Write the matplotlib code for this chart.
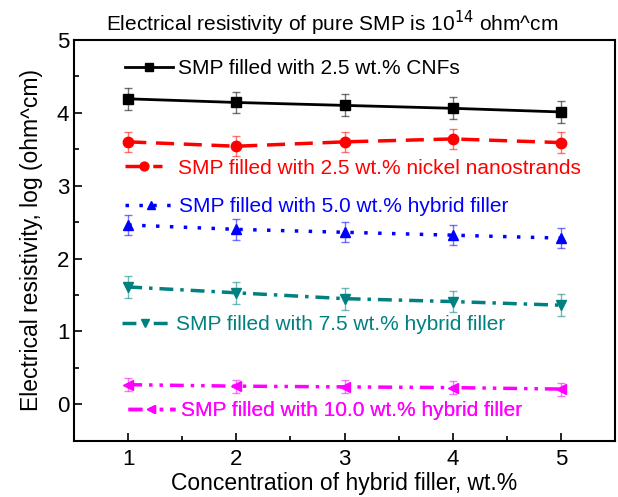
import matplotlib
matplotlib.use("Agg")
import matplotlib.pyplot as plt
from matplotlib.ticker import MultipleLocator

plt.rcParams["font.family"] = ["Liberation Sans", "DejaVu Sans"]

# concentration of hybrid filler, wt.%
conc = [1, 2, 3, 4, 5]

cnf = [4.19, 4.14, 4.10, 4.06, 4.01]
cnf_err = [0.15, 0.15, 0.15, 0.15, 0.15]
nickel = [3.60, 3.54, 3.60, 3.64, 3.59]
nickel_err = [0.14, 0.14, 0.14, 0.14, 0.14]
hyb5 = [2.46, 2.40, 2.36, 2.32, 2.28]
hyb5_err = [0.14, 0.14, 0.14, 0.14, 0.14]
hyb75 = [1.61, 1.53, 1.45, 1.41, 1.36]
hyb75_err = [0.15, 0.15, 0.15, 0.15, 0.15]
hyb10 = [0.27, 0.25, 0.24, 0.23, 0.21]
hyb10_err = [0.09, 0.09, 0.09, 0.09, 0.09]

labels = [
    "SMP filled with 2.5 wt.% CNFs",
    "SMP filled with 2.5 wt.% nickel nanostrands",
    "SMP filled with 5.0 wt.% hybrid filler",
    "SMP filled with 7.5 wt.% hybrid filler",
    "SMP filled with 10.0 wt.% hybrid filler",
]

series = [
    (cnf, cnf_err, "#000000", "-", "s", 7),
    (nickel, nickel_err, "#ff0000", (0, (5.2, 2.8)), "o", 7.5),
    (hyb5, hyb5_err, "#0000ff", (0, (1, 3)), "^", 7.5),
    (hyb75, hyb75_err, "#008080", (0, (4, 2, 1, 2)), "v", 7.5),
    (hyb10, hyb10_err, "#ff00ff", (0, (4, 2, 1, 2, 1, 2)), "<", 7.5),
]

# legend anchor (axes coords), handle length and pad for each label, as in the Origin original
leg_pos = [(0.094, 0.928), (0.094, 0.680), (0.094, 0.584), (0.088, 0.289), (0.099, 0.075)]
leg_handle = [2.3, 1.8, 2.5, 2.26, 2.26]
leg_pad = [0.25, 0.75, 0.1, 0.33, 0.29]

fig = plt.figure(figsize=(6.18, 4.97), dpi=100)
ax = fig.add_axes([0.120, 0.113, 0.875, 0.807])

for i, (y, err, color, ls, mk, ms) in enumerate(series):
    lw = 2.0 if ls == "-" else 2.5
    ax.errorbar(conc, y, yerr=err, fmt="none", ecolor=color, alpha=0.55,
                elinewidth=1.0, capsize=3, capthick=1.0, zorder=2)
    (ln,) = ax.plot(conc, y, color=color, linestyle=ls, linewidth=lw,
                    marker=mk, markersize=ms, zorder=3)
    leg = ax.legend([ln], [labels[i]], loc="center left",
                    bbox_to_anchor=leg_pos[i], frameon=False,
                    handlelength=leg_handle[i], handletextpad=leg_pad[i],
                    borderaxespad=0, borderpad=0, numpoints=1,
                    markerscale=0.85, fontsize=15, labelcolor=color)
    ax.add_artist(leg)

ax.set_xlim(0.5, 5.5)
ax.set_ylim(-0.5, 5)
ax.set_xticks(conc)
ax.xaxis.set_minor_locator(MultipleLocator(0.5))
ax.yaxis.set_major_locator(MultipleLocator(1))
ax.yaxis.set_minor_locator(MultipleLocator(0.5))
ax.tick_params(which="both", direction="in", width=1.2, labelsize=16)
ax.tick_params(which="major", length=6)
ax.tick_params(which="minor", length=3.5)
ax.tick_params(axis="x", pad=6)
for sp in ax.spines.values():
    sp.set_linewidth(1.5)

ax.set_xlabel("Concentration of hybrid filler, wt.%", fontsize=16.5, labelpad=1)
ax.set_ylabel("Electrical resistivity, log (ohm^cm)", fontsize=16.5, labelpad=10)
ax.set_title(r"Electrical resistivity of pure SMP is 10$^{14}$ ohm^cm",
             fontsize=15, pad=6, x=0.477)

fig.savefig("out.png", dpi=100)
